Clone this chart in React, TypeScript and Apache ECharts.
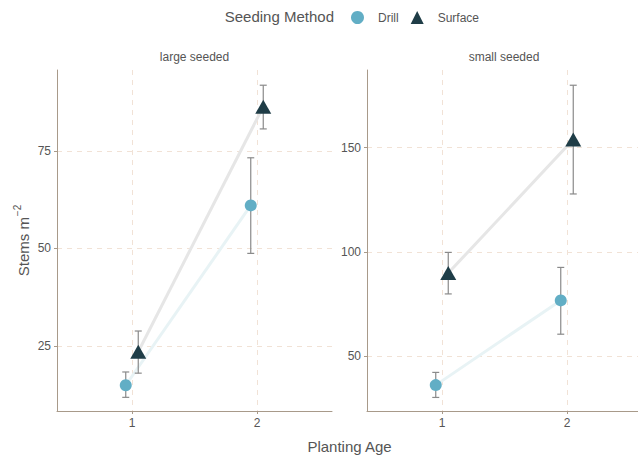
import React, { useEffect, useRef } from "react";
import * as echarts from "echarts";

// ---- data ----
const ages = [1, 2];
const panels = ["large seeded", "small seeded"];
const methods = ["Drill", "Surface"];

const largeDrillMean = [14.9, 61.0];
const largeDrillLow = [11.8, 48.7];
const largeDrillHigh = [18.3, 73.2];

const largeSurfaceMean = [23.5, 86.3];
const largeSurfaceLow = [18.0, 80.6];
const largeSurfaceHigh = [28.8, 91.8];

const smallDrillMean = [36.2, 76.8];
const smallDrillLow = [30.3, 60.6];
const smallDrillHigh = [42.3, 92.6];

const smallSurfaceMean = [89.9, 153.9];
const smallSurfaceLow = [79.9, 127.8];
const smallSurfaceHigh = [99.8, 179.9];

const largeTicks = [25, 50, 75];
const smallTicks = [50, 100, 150];

// ---- styling ----
const FONT = "Liberation Sans, Arial, sans-serif";
const TXT = "#555555";
const AXIS = "#a89a8a";
const GRIDC = "#f1e2d6";
const COLORS: Record<string, string> = { Drill: "#62aec5", Surface: "#1f3d47" };
const LINECOL: Record<string, string> = { Drill: "#e8f3f5", Surface: "#e6e6e6" };
const DODGE: Record<string, number> = { Drill: -0.05, Surface: 0.05 };

export default function App() {
  const ref = useRef<HTMLDivElement>(null);

  useEffect(() => {
    if (!ref.current) return;
    const chart = echarts.init(ref.current, undefined, { renderer: "svg" });

    const panelData = [
      {
        Drill: { mean: largeDrillMean, low: largeDrillLow, high: largeDrillHigh },
        Surface: { mean: largeSurfaceMean, low: largeSurfaceLow, high: largeSurfaceHigh },
        ticks: largeTicks,
        min: 8.3,
        max: 95.7,
      },
      {
        Drill: { mean: smallDrillMean, low: smallDrillLow, high: smallDrillHigh },
        Surface: { mean: smallSurfaceMean, low: smallSurfaceLow, high: smallSurfaceHigh },
        ticks: smallTicks,
        min: 23.8,
        max: 187.2,
      },
    ];

    const grids = [
      { left: 57, top: 70, width: 275, height: 341, outerBoundsMode: "none" },
      { left: 367, top: 70, width: 275, height: 341, outerBoundsMode: "none" },
    ];

    const xAxes = panelData.map((_, i) => ({
      type: "value",
      gridIndex: i,
      min: 0.4,
      max: 2.6,
      axisLine: { show: true, lineStyle: { color: AXIS, width: 1 } },
      axisTick: { show: true, customValues: ages, length: 3, lineStyle: { color: AXIS } },
      axisLabel: {
        customValues: ages,
        color: TXT,
        fontSize: 12,
        fontFamily: FONT,
        margin: 6,
        showMinLabel: true,
        showMaxLabel: true,
      },
      splitLine: { show: true, lineStyle: { color: GRIDC, type: [5, 5], width: 1 } },
    }));

    const yAxes = panelData.map((p, i) => ({
      type: "value",
      gridIndex: i,
      min: p.min,
      max: p.max,
      axisLine: { show: true, lineStyle: { color: AXIS, width: 1 } },
      axisTick: { show: true, customValues: p.ticks, length: 3, lineStyle: { color: AXIS } },
      axisLabel: {
        customValues: p.ticks,
        color: TXT,
        fontSize: 12,
        fontFamily: FONT,
        margin: 6,
      },
      splitLine: { show: true, lineStyle: { color: GRIDC, type: [5, 5], width: 1 } },
      ...(i === 0
        ? {
            name: "{b|Stems m}{s|−2}",
            nameLocation: "middle",
            nameRotate: 90,
            nameGap: 26,
            nameTextStyle: {
              color: TXT,
              fontFamily: FONT,
              rich: {
                b: { fontSize: 15, color: TXT, fontFamily: FONT, verticalAlign: "bottom" },
                s: { fontSize: 10, color: TXT, fontFamily: FONT, padding: [0, 0, 9, 1] },
              },
            },
          }
        : {}),
    }));

    const series: any[] = [];
    panelData.forEach((p: any, gi) => {
      methods.forEach((m) => {
        const d = p[m];
        const pts = ages.map((a, k) => [a + DODGE[m], d.mean[k]]);
        // connecting line
        series.push({
          type: "line",
          name: m + "-line-" + gi,
          xAxisIndex: gi,
          yAxisIndex: gi,
          data: pts,
          showSymbol: false,
          symbol: "none",
          lineStyle: { color: LINECOL[m], width: 3 },
          z: 1,
          silent: true,
        });
        // error bars
        series.push({
          type: "custom",
          name: m + "-err-" + gi,
          xAxisIndex: gi,
          yAxisIndex: gi,
          data: ages.map((a, k) => [a + DODGE[m], d.low[k], d.high[k]]),
          encode: { x: 0, y: [1, 2] },
          z: 2,
          silent: true,
          renderItem: (params: any, api: any) => {
            const x = api.value(0);
            const lo = api.coord([x, api.value(1)]);
            const hi = api.coord([x, api.value(2)]);
            const hw = 3.5;
            const st = { stroke: "#8a8a8a", lineWidth: 1.2 };
            return {
              type: "group",
              children: [
                { type: "line", shape: { x1: lo[0], y1: lo[1], x2: hi[0], y2: hi[1] }, style: st },
                { type: "line", shape: { x1: lo[0] - hw, y1: lo[1], x2: lo[0] + hw, y2: lo[1] }, style: st },
                { type: "line", shape: { x1: hi[0] - hw, y1: hi[1], x2: hi[0] + hw, y2: hi[1] }, style: st },
              ],
            };
          },
        });
        // points
        series.push({
          type: "scatter",
          name: m,
          xAxisIndex: gi,
          yAxisIndex: gi,
          data: pts,
          symbol: m === "Drill" ? "circle" : "triangle",
          symbolSize: m === "Drill" ? 12 : [16, 14],
          itemStyle: { color: COLORS[m], opacity: 1 },
          z: 3,
        });
      });
    });

    const option: any = {
      animation: false,
      backgroundColor: "#ffffff",
      textStyle: { fontFamily: FONT },
      grid: grids,
      xAxis: xAxes,
      yAxis: yAxes,
      legend: {
        data: [
          { name: "Drill", icon: "circle" },
          { name: "Surface", icon: "triangle" },
        ],
        left: 346,
        top: 6,
        itemWidth: 13,
        itemHeight: 13,
        itemGap: 12,
        textStyle: { color: TXT, fontSize: 12, fontFamily: FONT, padding: [0, 0, 0, 9] },
        selectedMode: false,
      },
      graphic: [
        {
          type: "text",
          right: 638 - 334,
          top: 9,
          style: { text: "Seeding Method", fill: TXT, fontSize: 15, fontFamily: FONT },
        },
        {
          type: "text",
          x: 194.5,
          y: 57,
          style: {
            text: panels[0],
            fill: TXT,
            fontSize: 12,
            fontFamily: FONT,
            align: "center",
            verticalAlign: "middle",
          },
        },
        {
          type: "text",
          x: 504,
          y: 57,
          style: {
            text: panels[1],
            fill: TXT,
            fontSize: 12,
            fontFamily: FONT,
            align: "center",
            verticalAlign: "middle",
          },
        },
        {
          type: "text",
          x: 349.5,
          y: 446,
          style: {
            text: "Planting Age",
            fill: TXT,
            fontSize: 15,
            fontFamily: FONT,
            align: "center",
            verticalAlign: "middle",
          },
        },
      ],
      series,
    };

    chart.setOption(option);
    return () => chart.dispose();
  }, []);

  return (
    <div
      ref={ref}
      style={{ width: 638, height: 456, position: "absolute", left: 0, top: 0 }}
    />
  );
}
